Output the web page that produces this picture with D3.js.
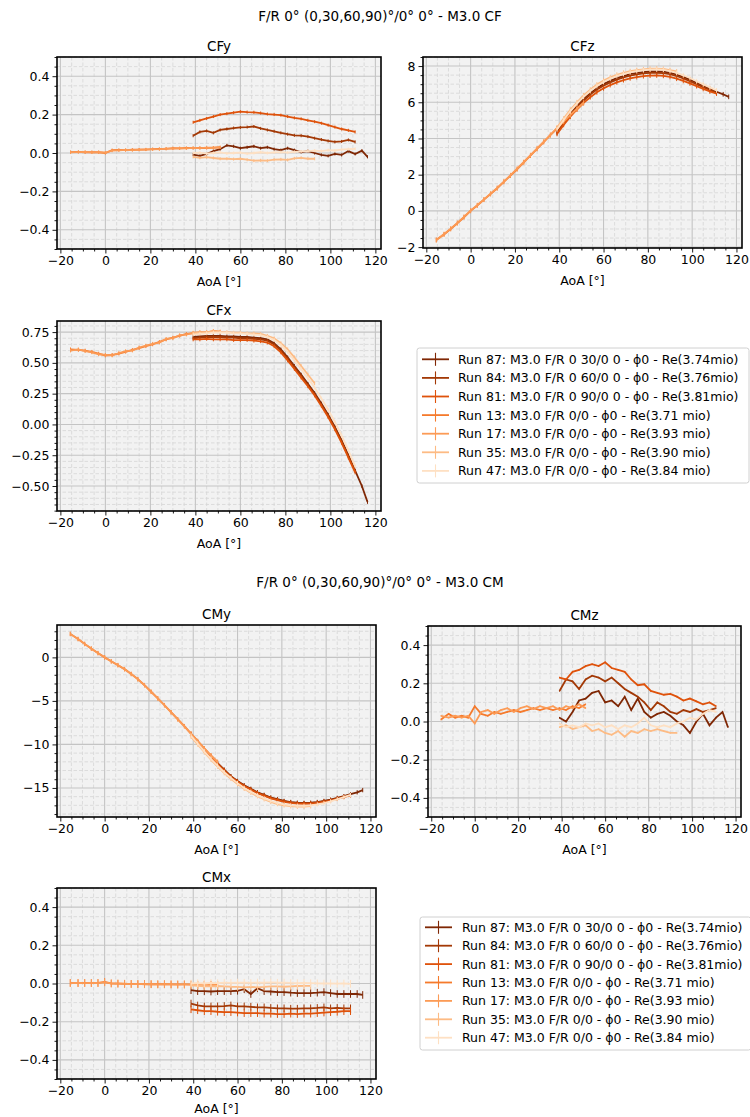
<!DOCTYPE html>
<html>
<head>
<meta charset="utf-8">
<script src="https://cdn.jsdelivr.net/npm/d3@7"></script>
<style>
body { margin: 0; background: #fff; }
text { font-family: "DejaVu Sans", sans-serif; fill: #000; }
</style>
</head>
<body>
<div id="chart-area"></div>
<script>
// runs, in plotting order
const runs = [
  "Run 87: M3.0 F/R 0 30/0 0 - \u03d50 - Re(3.74mio)",
  "Run 84: M3.0 F/R 0 60/0 0 - \u03d50 - Re(3.76mio)",
  "Run 81: M3.0 F/R 0 90/0 0 - \u03d50 - Re(3.81mio)",
  "Run 13: M3.0 F/R 0/0 - \u03d50 - Re(3.71 mio)",
  "Run 17: M3.0 F/R 0/0 - \u03d50 - Re(3.93 mio)",
  "Run 35: M3.0 F/R 0/0 - \u03d50 - Re(3.90 mio)",
  "Run 47: M3.0 F/R 0/0 - \u03d50 - Re(3.84 mio)"
]
const colors = ["#7f2704","#a33906","#df520b","#f57a2c","#fc9b56","#fdbb84","#fee0c3"]

// AoA samples
const aoaA = [39,42,45,48,51,54,57,60,63,66,69,72,75,78,81,84,87,90,93,96,99,102,105,108,111,114,116.5]
const aoaB = [39,42,45,48,51,54,57,60,63,66,69,72,75,78,81,84,87,90,93,96,99,102,105,108,111]
const aoaC = [-15.5,-12,-9,-6,-3,0,3,6,9,12,15,18,21,24,27,30,33,36,39,42,45,48,51]
const aoaD = [39,42,45,48,51,54,57,60,63,66,69,72,75,78,81,84,87,90,93]
const runAoA = [aoaA, aoaB, aoaB, aoaC, aoaC, aoaD, aoaB]

// coefficients, one sub-array per run
const CFy = [
  [-0.008,-0.015,-0.005,0.01,0.02,0.04,0.035,0.025,0.03,0.035,0.025,0.03,0.02,0.015,0.025,0.015,0.005,0.01,0.0,-0.01,-0.015,-0.005,-0.01,0.01,-0.005,0.012,-0.02],
  [0.09,0.11,0.115,0.105,0.12,0.125,0.13,0.133,0.135,0.138,0.128,0.12,0.113,0.105,0.098,0.092,0.09,0.085,0.077,0.07,0.063,0.058,0.06,0.068,0.058],
  [0.16,0.17,0.18,0.19,0.2,0.205,0.21,0.215,0.213,0.212,0.208,0.203,0.2,0.197,0.19,0.183,0.178,0.17,0.163,0.155,0.145,0.135,0.125,0.118,0.11],
  [0.005,0.006,0.004,0.005,0.004,0.0,0.015,0.016,0.015,0.017,0.018,0.018,0.02,0.021,0.022,0.025,0.024,0.026,0.025,0.027,0.026,0.028,0.03],
  [0.003,0.005,0.006,0.003,0.005,0.002,0.012,0.014,0.016,0.015,0.017,0.019,0.019,0.02,0.023,0.023,0.025,0.024,0.027,0.025,0.028,0.027,0.029],
  [-0.02,-0.025,-0.022,-0.026,-0.03,-0.03,-0.032,-0.03,-0.035,-0.04,-0.038,-0.04,-0.035,-0.033,-0.036,-0.028,-0.025,-0.03,-0.03],
  [0.0,0.002,-0.003,0.0,0.003,-0.002,0.0,0.002,-0.003,0.0,0.004,0.0,0.003,0.005,0.002,0.006,0.008,0.01,0.012,0.01,0.015,0.013,0.018,0.02,0.022]
]
const CFz = [
  [4.35,4.9,5.38,5.8,6.18,6.5,6.78,7.0,7.18,7.33,7.45,7.55,7.62,7.67,7.7,7.71,7.69,7.63,7.53,7.4,7.25,7.08,6.91,6.74,6.58,6.44,6.3],
  [4.3,4.83,5.3,5.72,6.1,6.42,6.7,6.92,7.1,7.25,7.37,7.47,7.54,7.59,7.62,7.63,7.61,7.55,7.45,7.32,7.17,7.0,6.84,6.68,6.52],
  [4.25,4.75,5.2,5.6,5.97,6.28,6.55,6.77,6.95,7.1,7.22,7.32,7.39,7.44,7.47,7.48,7.46,7.4,7.3,7.18,7.04,6.89,6.74,6.6,6.48],
  [-1.6,-1.3,-1.0,-0.68,-0.35,0.0,0.3,0.62,0.93,1.25,1.6,1.95,2.3,2.68,3.05,3.42,3.8,4.18,4.55,4.92,5.28,5.62,5.95],
  [-1.62,-1.28,-0.98,-0.66,-0.33,0.02,0.32,0.63,0.95,1.27,1.62,1.97,2.33,2.7,3.08,3.45,3.83,4.2,4.58,4.95,5.3,5.65,5.98],
  [4.6,5.1,5.58,6.0,6.38,6.7,6.98,7.2,7.38,7.52,7.63,7.72,7.78,7.82,7.85,7.86,7.84,7.78,7.7],
  [4.5,5.02,5.5,5.92,6.3,6.62,6.9,7.12,7.3,7.45,7.56,7.65,7.72,7.77,7.8,7.81,7.79,7.72,7.62,7.49,7.34,7.16,6.99,6.82,6.66]
]
const CFx = [
  [0.71,0.715,0.72,0.72,0.72,0.715,0.715,0.71,0.71,0.705,0.7,0.69,0.66,0.61,0.545,0.475,0.405,0.33,0.255,0.17,0.08,-0.02,-0.13,-0.25,-0.375,-0.5,-0.63],
  [0.7,0.705,0.71,0.71,0.71,0.705,0.705,0.7,0.7,0.695,0.69,0.68,0.65,0.6,0.535,0.465,0.395,0.32,0.245,0.16,0.07,-0.03,-0.14,-0.26,-0.38],
  [0.69,0.69,0.695,0.69,0.69,0.69,0.685,0.685,0.685,0.68,0.675,0.665,0.635,0.585,0.52,0.45,0.38,0.31,0.235,0.15,0.06,-0.04,-0.15,-0.27,-0.39],
  [0.61,0.605,0.6,0.59,0.575,0.56,0.565,0.575,0.59,0.605,0.62,0.635,0.65,0.67,0.69,0.705,0.72,0.735,0.74,0.745,0.75,0.755,0.75],
  [0.6,0.61,0.595,0.585,0.57,0.565,0.56,0.58,0.595,0.6,0.625,0.64,0.655,0.665,0.695,0.7,0.725,0.73,0.745,0.75,0.745,0.76,0.755],
  [0.74,0.745,0.75,0.755,0.75,0.75,0.745,0.745,0.74,0.74,0.735,0.72,0.7,0.66,0.61,0.545,0.475,0.405,0.335],
  [0.73,0.735,0.74,0.745,0.745,0.745,0.74,0.74,0.735,0.73,0.725,0.71,0.685,0.645,0.59,0.52,0.45,0.375,0.3,0.21,0.12,0.02,-0.09,-0.21,-0.34]
]
const CMy = [
  [-8.8,-9.7,-10.6,-11.4,-12.15,-12.9,-13.65,-14.2,-14.7,-15.1,-15.5,-15.8,-16.1,-16.3,-16.5,-16.62,-16.7,-16.72,-16.7,-16.62,-16.5,-16.35,-16.15,-15.95,-15.72,-15.5,-15.25],
  [-8.85,-9.75,-10.65,-11.45,-12.2,-12.95,-13.7,-14.25,-14.75,-15.15,-15.55,-15.85,-16.15,-16.35,-16.55,-16.67,-16.75,-16.77,-16.75,-16.67,-16.55,-16.4,-16.2,-16.0,-15.78],
  [-8.9,-9.8,-10.7,-11.5,-12.25,-13.0,-13.75,-14.3,-14.8,-15.2,-15.6,-15.9,-16.2,-16.4,-16.6,-16.72,-16.8,-16.82,-16.8,-16.72,-16.6,-16.45,-16.25,-16.05,-15.85],
  [2.7,2.1,1.55,1.0,0.5,0.0,-0.45,-0.9,-1.35,-1.9,-2.5,-3.2,-3.95,-4.7,-5.5,-6.3,-7.1,-7.9,-8.75,-9.6,-10.45,-11.25,-12.0],
  [2.68,2.12,1.53,1.02,0.48,0.02,-0.47,-0.88,-1.37,-1.92,-2.52,-3.18,-3.97,-4.72,-5.48,-6.32,-7.12,-7.92,-8.78,-9.62,-10.48,-11.28,-12.05],
  [-9.1,-10.0,-10.9,-11.75,-12.55,-13.3,-13.95,-14.55,-15.1,-15.55,-15.95,-16.3,-16.6,-16.85,-17.0,-17.1,-17.15,-17.15,-17.1],
  [-9.0,-9.9,-10.8,-11.65,-12.45,-13.2,-13.85,-14.45,-15.0,-15.45,-15.85,-16.2,-16.5,-16.75,-16.9,-17.0,-17.05,-17.05,-17.0,-16.9,-16.75,-16.55,-16.3,-16.05,-15.8]
]
const CMz = [
  [0.02,0.0,0.05,0.11,0.12,0.15,0.16,0.1,0.11,0.08,0.13,0.06,0.12,0.05,0.02,0.04,0.05,0.03,0.0,-0.02,-0.06,0.0,0.04,-0.02,0.02,0.05,-0.03],
  [0.16,0.22,0.21,0.17,0.22,0.24,0.23,0.21,0.23,0.2,0.17,0.15,0.13,0.1,0.06,0.1,0.08,0.05,0.04,0.06,0.05,0.065,0.05,0.06,0.07],
  [0.23,0.22,0.26,0.27,0.29,0.3,0.29,0.31,0.28,0.27,0.26,0.22,0.19,0.195,0.16,0.15,0.14,0.145,0.13,0.11,0.12,0.105,0.09,0.1,0.08],
  [0.01,0.04,0.02,0.03,0.02,0.08,0.04,0.03,0.05,0.04,0.05,0.06,0.05,0.06,0.07,0.06,0.07,0.06,0.07,0.06,0.08,0.07,0.09],
  [0.03,0.02,0.03,0.02,0.03,-0.01,0.05,0.06,0.04,0.06,0.07,0.05,0.07,0.08,0.065,0.08,0.07,0.08,0.06,0.08,0.07,0.09,0.07],
  [-0.03,-0.02,-0.04,-0.03,-0.02,-0.05,-0.04,-0.06,-0.07,-0.05,-0.08,-0.05,-0.06,-0.04,-0.05,-0.04,-0.05,-0.06,-0.06],
  [-0.01,-0.03,-0.02,-0.03,-0.01,-0.02,-0.01,-0.03,-0.02,-0.04,-0.02,-0.03,-0.01,0.02,-0.02,-0.03,-0.02,-0.03,-0.01,0.0,0.02,0.01,0.04,0.06,0.05]
]
const CMx = [
  [-0.035,-0.04,-0.04,-0.042,-0.04,-0.04,-0.04,-0.038,-0.03,-0.055,-0.025,-0.04,-0.042,-0.045,-0.045,-0.048,-0.05,-0.05,-0.05,-0.048,-0.045,-0.05,-0.055,-0.055,-0.055,-0.055,-0.06],
  [-0.105,-0.115,-0.12,-0.12,-0.12,-0.118,-0.115,-0.12,-0.12,-0.122,-0.125,-0.125,-0.128,-0.13,-0.13,-0.132,-0.132,-0.13,-0.13,-0.128,-0.125,-0.13,-0.128,-0.13,-0.13],
  [-0.135,-0.14,-0.145,-0.145,-0.148,-0.15,-0.15,-0.152,-0.155,-0.155,-0.155,-0.158,-0.158,-0.16,-0.16,-0.158,-0.16,-0.158,-0.158,-0.155,-0.152,-0.15,-0.148,-0.145,-0.145],
  [0.003,0.002,0.003,0.002,0.003,0.008,0.0,-0.001,-0.002,-0.002,-0.003,-0.003,-0.004,-0.004,-0.004,-0.005,-0.005,-0.005,-0.006,-0.006,-0.006,-0.007,-0.007],
  [0.002,0.003,0.002,0.003,0.002,0.006,0.001,0.0,-0.001,-0.003,-0.002,-0.004,-0.003,-0.005,-0.004,-0.004,-0.006,-0.005,-0.005,-0.007,-0.006,-0.006,-0.008],
  [-0.01,-0.012,-0.015,-0.015,-0.013,-0.015,-0.017,-0.018,-0.02,-0.018,-0.02,-0.018,-0.015,-0.015,-0.017,-0.015,-0.013,-0.012,-0.012],
  [0.0,0.002,0.0,0.003,0.002,0.004,0.003,0.005,0.004,0.003,0.005,0.004,0.006,0.004,0.005,0.003,0.002,0.003,0.002,0.001,0.0,0.001,-0.001,0.0,-0.002]
]
// half length of the error bars, same order as coefficient panels
const errHalf = [0.008, 0.13, 0.015, 0.25, 0.004, 0.02]

// ticks
const xTicks = [-20,0,20,40,60,80,100,120]
const tickSmall = [-0.4,-0.2,0,0.2,0.4]
const tickCFz = [-2,0,2,4,6,8]
const tickCFx = [-0.5,-0.25,0,0.25,0.5,0.75]
const tickCMy = [-15,-10,-5,0]
const xDomain = [-21.5, 122.5]

const W = 750, H = 1117
const svg = d3.select("#chart-area").append("svg")
    .attr("width", W)
    .attr("height", H)

const panels = [
  {name:"CFy", vals:CFy, err:errHalf[0], box:[57,57,381,249], yDom:[-0.5,0.5], yTicks:tickSmall, minor:0.05, fmt:".1f"},
  {name:"CFz", vals:CFz, err:errHalf[1], box:[423,57,742,248], yDom:[-2.05,8.5], yTicks:tickCFz, minor:0.5, fmt:"d"},
  {name:"CFx", vals:CFx, err:errHalf[2], box:[57,321,381,511], yDom:[-0.703,0.84], yTicks:tickCFx, minor:0.05, fmt:".2f"},
  {name:"CMy", vals:CMy, err:errHalf[3], box:[57,625,376,817], yDom:[-18.34,3.72], yTicks:tickCMy, minor:1, fmt:"d"},
  {name:"CMz", vals:CMz, err:errHalf[4], box:[428,626,741,817], yDom:[-0.5,0.5], yTicks:tickSmall, minor:0.05, fmt:".1f"},
  {name:"CMx", vals:CMx, err:errHalf[5], box:[57,888,376,1079], yDom:[-0.5,0.5], yTicks:tickSmall, minor:0.05, fmt:".1f"}
]

function minorVals(dom, step, majors){
  const out = []
  const start = Math.ceil(dom[0] / step - 1e-9)
  const end = Math.floor(dom[1] / step + 1e-9)
  for (let k = start; k <= end; k++) {
    const v = +(k * step).toFixed(6)
    if (!majors.some(m => Math.abs(m - v) < 1e-9)) out.push(v)
  }
  return out
}

panels.forEach(p => {
  const [l, t, r, b] = p.box
  const x = d3.scaleLinear().domain(xDomain).range([l, r])
  const y = d3.scaleLinear().domain(p.yDom).range([b, t])
  const g = svg.append("g")

  g.append("rect").attr("x", l).attr("y", t).attr("width", r - l).attr("height", b - t)
    .attr("fill", "#f2f2f2")

  const xMinor = minorVals(xDomain, 5, xTicks)
  const yMinor = minorVals(p.yDom, p.minor, p.yTicks)

  // minor grid
  g.selectAll(".gxm").data(xMinor).enter().append("line")
    .attr("x1", d => x(d)).attr("x2", d => x(d)).attr("y1", t).attr("y2", b)
    .attr("stroke", "#d6d6d6").attr("stroke-width", 0.8).attr("stroke-dasharray", "3.5,2")
  g.selectAll(".gym").data(yMinor).enter().append("line")
    .attr("x1", l).attr("x2", r).attr("y1", d => y(d)).attr("y2", d => y(d))
    .attr("stroke", "#d6d6d6").attr("stroke-width", 0.8).attr("stroke-dasharray", "3.5,2")
  // major grid
  g.selectAll(".gx").data(xTicks).enter().append("line")
    .attr("x1", d => x(d)).attr("x2", d => x(d)).attr("y1", t).attr("y2", b)
    .attr("stroke", "#c4c4c4").attr("stroke-width", 1.1)
  g.selectAll(".gy").data(p.yTicks).enter().append("line")
    .attr("x1", l).attr("x2", r).attr("y1", d => y(d)).attr("y2", d => y(d))
    .attr("stroke", "#c4c4c4").attr("stroke-width", 1.1)

  // series
  const line = d3.line().x(d => x(d[0])).y(d => y(d[1]))
  p.vals.forEach((vals, i) => {
    const pts = d3.zip(runAoA[i], vals)
    g.append("path").datum(pts)
      .attr("d", line).attr("fill", "none")
      .attr("stroke", colors[i]).attr("stroke-width", 1.8)
    g.selectAll(".eb" + i).data(pts).enter().append("line")
      .attr("x1", d => x(d[0])).attr("x2", d => x(d[0]))
      .attr("y1", d => y(d[1] - p.err)).attr("y2", d => y(d[1] + p.err))
      .attr("stroke", colors[i]).attr("stroke-width", 1)
  })

  // axes
  const xAxis = g.append("g").attr("transform", `translate(0,${b})`)
    .call(d3.axisBottom(x).tickValues(xTicks).tickSize(4.5).tickPadding(3).tickFormat(d3.format("d")))
  const xAxisMinor = g.append("g").attr("transform", `translate(0,${b})`)
    .call(d3.axisBottom(x).tickValues(xMinor).tickSize(2.5).tickFormat(""))
  const yAxis = g.append("g").attr("transform", `translate(${l},0)`)
    .call(d3.axisLeft(y).tickValues(p.yTicks).tickSize(4.5).tickPadding(3).tickFormat(d3.format(p.fmt)))
  const yAxisMinor = g.append("g").attr("transform", `translate(${l},0)`)
    .call(d3.axisLeft(y).tickValues(yMinor).tickSize(2.5).tickFormat(""))
  ;[xAxis, xAxisMinor, yAxis, yAxisMinor].forEach(a => {
    a.select(".domain").remove()
    a.selectAll("line").attr("stroke", "#000").attr("stroke-width", 0.9)
    a.selectAll("text").attr("font-size", "12.5px").attr("fill", "#000")
      .style("font-family", "DejaVu Sans")
  })

  g.append("rect").attr("x", l).attr("y", t).attr("width", r - l).attr("height", b - t)
    .attr("fill", "none").attr("stroke", "#000").attr("stroke-width", 1.6)

  g.append("text").attr("x", (l + r) / 2).attr("y", t - 11)
    .attr("text-anchor", "middle").attr("dominant-baseline", "central")
    .attr("font-size", "13.5px").text(p.name)
  g.append("text").attr("x", (l + r) / 2).attr("y", Math.min(b + 32.5, H - 8.5))
    .attr("text-anchor", "middle").attr("dominant-baseline", "central")
    .attr("font-size", "12.5px").text("AoA [\u00b0]")
})

// figure titles
const titles = ["F/R 0\u00b0 (0,30,60,90)\u00b0/0\u00b0 0\u00b0 - M3.0 CF", "F/R 0\u00b0 (0,30,60,90)\u00b0/0\u00b0 0\u00b0 - M3.0 CM"]
const titleY = [15.5, 582]
titles.forEach((tx, i) => {
  svg.append("text").attr("x", 380).attr("y", titleY[i])
    .attr("text-anchor", "middle").attr("dominant-baseline", "central")
    .attr("font-size", "13.5px").text(tx)
})

// legends
const legends = [
  {box:[417,348,749,483], y0:359.3, step:18.6, hx:422, tx:458},
  {box:[420,917,751,1050], y0:927.3, step:18.4, hx:425, tx:462}
]
legends.forEach(L => {
  const [l, t, r, b] = L.box
  const lg = svg.append("g")
  lg.append("rect").attr("x", l).attr("y", t).attr("width", r - l).attr("height", b - t)
    .attr("rx", 2.5).attr("fill", "#fff").attr("stroke", "#d0d0d0").attr("stroke-width", 1)
  runs.forEach((name, i) => {
    const yy = L.y0 + i * L.step
    lg.append("line").attr("x1", L.hx).attr("x2", L.hx + 27).attr("y1", yy).attr("y2", yy)
      .attr("stroke", colors[i]).attr("stroke-width", 1.8)
    lg.append("line").attr("x1", L.hx + 13.5).attr("x2", L.hx + 13.5).attr("y1", yy - 6.5).attr("y2", yy + 6.5)
      .attr("stroke", colors[i]).attr("stroke-width", 1.1)
    lg.append("text").attr("x", L.tx).attr("y", yy).attr("dominant-baseline", "central")
      .attr("font-size", "12.5px").text(name)
  })
})
</script>
</body>
</html>
